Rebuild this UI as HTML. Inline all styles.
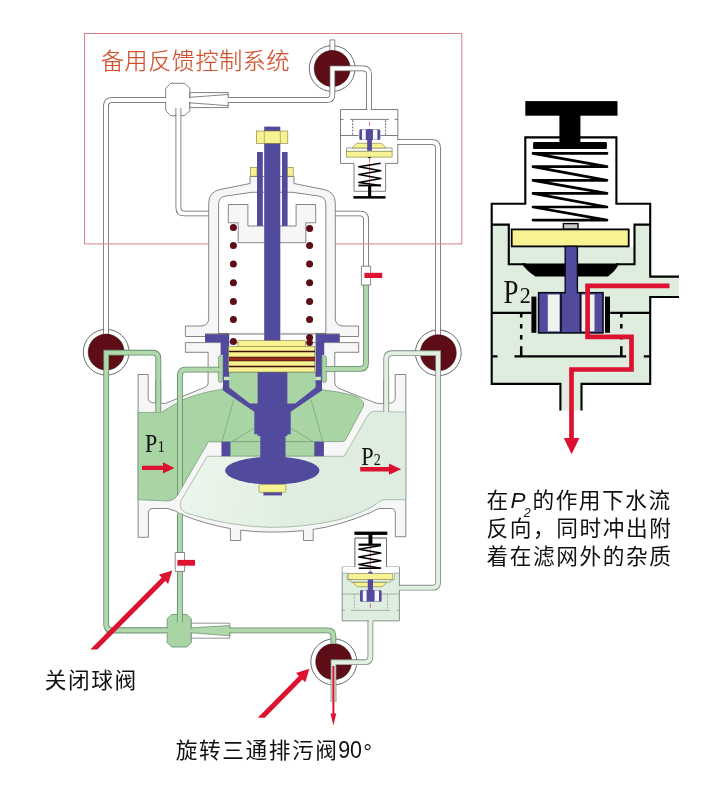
<!DOCTYPE html>
<html lang="zh-CN">
<head>
<meta charset="utf-8">
<title>备用反馈控制系统</title>
<style>
html,body{margin:0;padding:0;background:#fff;}
body{width:718px;height:800px;overflow:hidden;font-family:"Liberation Sans","Noto Sans CJK SC",sans-serif;}
svg{display:block;will-change:transform;}
.cn{font-family:"Liberation Sans","Noto Sans CJK SC",sans-serif;font-weight:300;}
.sf{font-family:"Liberation Serif","Noto Serif CJK SC",serif;}
.wo{fill:none;stroke:#5e5e5e;stroke-width:5.7;stroke-linejoin:round;}
.wi{fill:none;stroke:#fff;stroke-width:4.2;stroke-linejoin:round;}
.go{fill:none;stroke:#668a6c;stroke-width:5.8;stroke-linejoin:round;}
.gi{fill:none;stroke:#afd8ab;stroke-width:4.1;stroke-linejoin:round;}
.lo{fill:none;stroke:#7f8c82;stroke-width:5.8;stroke-linejoin:round;}
.li{fill:none;stroke:#e1f0e1;stroke-width:4.1;stroke-linejoin:round;}
.gr{fill:#f6f6f6;stroke:#6a6a6a;stroke-width:.8;stroke-linejoin:round;}
.wh{fill:#fff;stroke:#6a6a6a;stroke-width:.8;stroke-linejoin:round;}
.dg{fill:#a9d5a5;stroke:#6f9472;stroke-width:.7;stroke-linejoin:round;}
.lg{fill:#deeddf;stroke:#8fa891;stroke-width:.7;stroke-linejoin:round;}
.pu{fill:#524a9d;}
.ye{fill:#f8f392;stroke:#7d7a3a;stroke-width:.6;}
.mr{fill:#5e0d16;stroke:#2a0508;stroke-width:.5;}
.red{fill:#dc1230;}
.bk{fill:none;stroke:#000;stroke-width:2.1;}
</style>
</head>
<body>
<svg width="718" height="800" viewBox="0 0 718 800">
<rect width="718" height="800" fill="#fff"/>
<!-- ball valve rings -->
<g id="rings">
<circle cx="332.2" cy="68.5" r="22.9" class="wh" style="stroke:#5c5c5c;stroke-width:.9"/>
<circle cx="106.2" cy="352.2" r="22.9" class="wh" style="stroke:#5c5c5c;stroke-width:.9"/>
<circle cx="438.3" cy="352.8" r="22.9" class="wh" style="stroke:#5c5c5c;stroke-width:.9"/>
<circle cx="333.8" cy="661.9" r="23" class="wh" style="stroke:#5c5c5c;stroke-width:.9"/>
<rect x="329.9" y="39.9" width="4.9" height="11" class="wh"/>
</g>
<!-- white pipes -->
<defs><path id="w1" d="M106,336 L106,105.9 Q106,100.1 111.8,100.1 L167,100.1 M178.4,114 L178.4,207.7 Q178.4,213.5 184.2,213.5 L210,213.5 M334,213.5 L360.2,213.5 Q366,213.5 366,219.3 L366,267 M397,142.1 L432.2,142.1 Q438,142.1 438,147.9 L438,336"/></defs>
<g id="wpipes">
<use href="#w1" class="wo"/>
<use href="#w1" class="wi"/>
</g>
<rect x="84.5" y="33.5" width="377.3" height="210.4" fill="none" stroke="#d9808a" stroke-width="1"/>
<!-- green pipes -->
<defs>
<path id="g1" d="M106.2,630.4 L169,630.4 M228,630.4 L327.6,630.4 Q333.4,630.4 333.4,636.2 L333.4,643.6"/>
<path id="g2" d="M158.3,413 L158.3,358.5 Q158.3,352.7 152.5,352.7 L106.2,352.7 L106.2,624.6 Q106.2,630.4 112,630.4 L169,630.4"/>
<path id="l1" d="M386.2,413 L386.2,359 Q386.2,353.2 392,353.2 L438.1,353.2 L438.1,581.9 Q438.1,587.7 432.3,587.7 L398,587.7"/>
<path id="l2" d="M370.4,619 L370.4,656.4 Q370.4,662.2 364.6,662.2 L333.5,662.2 L333.5,702"/>
</defs>
<g id="balls">
<circle cx="332.2" cy="68.5" r="18" class="mr"/>
<circle cx="106.2" cy="352.1" r="18" class="mr"/>
<circle cx="438.3" cy="352.8" r="18" class="mr"/>
<circle cx="333.7" cy="661.7" r="18" class="mr"/>
<path d="M227,100.1 L326.6,100.1 Q332.4,100.1 332.4,94.3 L332.4,68.3 L363.1,68.3 Q368.9,68.3 368.9,74.1 L368.9,111" class="wo" style="stroke-linejoin:miter"/>
<path d="M226,100.1 L326.6,100.1 Q332.4,100.1 332.4,94.3 L332.4,68.3 L363.1,68.3 Q368.9,68.3 368.9,74.1 L368.9,111" class="wi" style="stroke-linejoin:miter"/>
</g>
<g id="gpipes">
<use href="#g1" class="go"/>
<use href="#g1" class="gi"/>
<use href="#g2" class="go" style="stroke-linejoin:miter"/>
<use href="#g2" class="gi" style="stroke-linejoin:miter"/>
<use href="#l1" class="lo" style="stroke-linejoin:miter"/>
<use href="#l1" class="li" style="stroke-linejoin:miter"/>
<use href="#l2" class="lo" style="stroke-linejoin:miter"/>
<use href="#l2" class="li" style="stroke-linejoin:miter"/>
<path d="M333.4,666 V714" stroke="#dc1230" stroke-width="2" fill="none"/>
<path d="M333.4,725.4 l-2.9,-12 h5.8 z" class="red"/>
</g>
<!-- main valve body silhouette -->
<g id="body">
<path class="gr" d="M138.1,374.5 H148.2 V397.5 Q148.2,402.6 153.5,402.8 L165.6,403.4 L205.6,387 Q208.1,386 208.1,383 L208.1,352.3 H185.4 V342.6 H358.7 V352.3 H334.8 L334.8,382.6 Q334.8,386.4 338.5,388.2 L374,402.4 Q378,403.8 382,403.6 L390.5,403 Q395.2,402.4 395.2,397.5 V374.5 H405.8 V536.7 H395.3 V513 Q395.3,508.5 391,508.5 H379 Q374,510.5 370.3,512.7 Q340,525.5 313.2,529.5 V540.5 H303.5 V530.7 Q285,532.3 270,532.1 Q255,532 240.7,530.2 V540.5 H230.4 V528.6 Q205,524 182.2,514.8 Q175,510 167.6,508.5 H153 Q148.4,508.5 148.4,513 V537.3 H138.1 Z"/>
<!-- inlet / upper chamber dark green -->
<path class="dg" d="M138.1,412.4 H161.5 Q172,405.5 182.4,399.9 Q200,392.5 222,389.4 L229,372 H315 L321.5,389.6 Q338,391.5 351.8,395 Q365,399 363.6,406 L345.2,440.4 Q344,441.6 340,441.6 L208.3,441.9 L180.1,490.5 Q176,500.5 168,501 L138,499.7 Z"/>
<path class="dg" d="M230,441.6 H314.5 V456.2 H230 Z"/>
<!-- outlet light green -->
<defs><linearGradient id="og" gradientUnits="userSpaceOnUse" x1="185" y1="470" x2="310" y2="500"><stop offset="0" stop-color="#edf6ed"/><stop offset="1" stop-color="#deeddf"/></linearGradient></defs>
<path class="lg" style="fill:url(#og)" d="M207.3,456.3 H344.2 L368,415 Q370.5,411.2 375,411.2 L405.8,412.2 V499.7 H384 Q380,500 374.4,505.4 Q362,513 340,519.5 Q305,527.6 270,527.4 Q230,526.5 186,513 Q178,509 181,500.5 Z"/>
</g>
<!-- bonnet -->
<g id="bonnet">
<path class="gr" d="M250,176.5 H294 V183.5 L323,189.3 Q335.3,191.5 335.3,203 V318 Q335.3,326 343,326 H358.6 V336.5 H185.4 V326 H201 Q208.7,326 208.7,318 V203 Q208.7,191.5 221,189.3 L250,183.5 Z"/>
<path class="wh" d="M218.6,333.4 V204 Q218.6,197 226,196 L252,192.3 H292 L318.5,196 Q325.8,197 325.8,204 V333.4 Z"/>
<rect x="229" y="333" width="86.8" height="9" fill="#fff"/>
<path class="gr" d="M228.3,204.5 H247.9 V226 H296.1 V204.5 H315.7 V222.8 H305.8 V242.7 H238.2 V222.8 H228.3 Z"/>
</g>
<!-- spring coils -->
<g class="mr" style="stroke:none">
<circle cx="233.4" cy="227.4" r="3.5"/><circle cx="233.4" cy="245.5" r="3.5"/><circle cx="233.4" cy="263.9" r="3.5"/><circle cx="233.4" cy="282.8" r="3.5"/><circle cx="233.4" cy="301.6" r="3.5"/><circle cx="233.4" cy="319.6" r="3.5"/><circle cx="233.4" cy="341.6" r="3.5"/>
<circle cx="309.6" cy="228.4" r="3.5"/><circle cx="309.6" cy="245.5" r="3.5"/><circle cx="309.6" cy="263.9" r="3.5"/><circle cx="309.6" cy="282.8" r="3.5"/><circle cx="309.6" cy="301.6" r="3.5"/><circle cx="309.6" cy="319.6" r="3.5"/><circle cx="309.6" cy="337.4" r="3.5"/><circle cx="309.6" cy="342.8" r="3.3"/>
</g>
<!-- purple internals -->
<g class="pu">
<rect x="264.2" y="126.6" width="16.1" height="216"/>
<rect x="257" y="152" width="5.8" height="73.9"/>
<rect x="282" y="152" width="5.6" height="73.9"/>
<path d="M205,334.3 H229.2 V387.6 L249.9,403.4 H257.8 V371.8 H287.2 V403.4 H295.1 L315.6,387.6 V334.3 H339.8 V342.3 H324.2 V355 H322 V390.5 L290.7,411.7 V434.2 H287.2 V436 H257.8 V434.2 H254.3 V411.7 L223,390.5 V355 H220.6 V342.3 H205 Z"/>
<rect x="221.5" y="441.7" width="8.8" height="14.5"/>
<rect x="314.5" y="441.7" width="9.4" height="14.5"/>
<ellipse cx="272.3" cy="470.6" rx="47.2" ry="14"/>
<rect x="263.4" y="490" width="18.6" height="5.4"/>
</g>
<rect x="257.8" y="371.8" width="29.4" height="64" class="pu"/>
<rect x="260.3" y="430" width="25.2" height="30" class="pu"/>
<path d="M205,334 H264 M280.5,334 H339.8" stroke="#333" stroke-width=".7" fill="none"/>
<rect x="218.4" y="355.7" width="4.4" height="26.7" rx="2" class="dg"/>
<rect x="322" y="355.7" width="4.4" height="26.7" rx="2" class="dg"/>
<rect x="224" y="376.8" width="5.5" height="3.4" fill="#c9e8c6"/>
<rect x="315.4" y="376.8" width="5.5" height="3.4" fill="#c9e8c6"/>
<path d="M233.8,399.7 L222,441.6 M254.3,428 L232,441.6 M311,399.7 L322.8,441.6 M290.5,428 L313,441.6" stroke="#5d8a62" stroke-width=".5" fill="none"/>
<!-- yellow parts -->
<g class="ye">
<rect x="256.3" y="131" width="31.5" height="12.3"/>
<rect x="250.5" y="167.4" width="6.5" height="8.8"/>
<rect x="287.6" y="167.4" width="5.6" height="8.8"/>
<rect x="238" y="340.7" width="67.3" height="6"/>
<rect x="228.6" y="346.4" width="86.2" height="25.6"/>
<rect x="259" y="484.4" width="26.9" height="7.9" rx="1.2"/>
</g>
<path d="M229,351.5 H315 M229,366.4 H315" stroke="#3f1206" stroke-width="1.5" fill="none"/>
<path d="M229,359 H315" stroke="#4a1408" stroke-width="4.4" fill="none"/>
<path d="M229,359 H315" stroke="#94301a" stroke-width="3.2" fill="none"/>
<path d="M264.3,131 V143.3 M280.3,131 V143.3" stroke="#8a8740" stroke-width=".6" fill="none"/>
<!-- pipes drawn over the body -->
<defs>
<path id="g3" d="M179.9,504 L179.9,375.4 Q179.9,369.6 185.7,369.6 L220,369.6"/>
<path id="g3b" d="M179.9,513.6 L179.9,616"/>
<path id="g4" d="M366,284 L366,363.1 Q366,368.9 360.2,368.9 L325,368.9"/>
<path id="g5" d="M158.3,412.5 L158.3,380"/>
<path id="l5" d="M386.2,412 L386.2,380"/>
</defs>
<clipPath id="cpin"><path d="M150,350 H262 L174.6,500.6 H150 Z"/></clipPath>
<g id="overpipes">
<use href="#g3b" class="go"/><use href="#g3b" class="gi"/>
<g clip-path="url(#cpin)"><use href="#g3" class="go"/><use href="#g3" class="gi"/></g>
<use href="#g4" class="go"/><use href="#g4" class="gi"/>
<use href="#g5" class="go"/><use href="#g5" class="gi"/>
<use href="#l5" class="lo"/><use href="#l5" class="li"/>
</g>
<!-- ejectors -->
<g id="ejectors">
<path d="M170.7,83.3 H184.8 L189.8,88.3 V110.7 L184.8,115.7 H170.7 L165.7,110.7 V88.3 Z" fill="#fff" stroke="#5e5e5e" stroke-width=".8" stroke-linejoin="round"/>
<path d="M178.4,108 V117" stroke="#fff" stroke-width="4.4"/>
<path d="M175.9,108 V116.4 M180.9,108 V116.4" stroke="#5e5e5e" stroke-width=".75"/>
<path d="M189.8,92.6 H228.2 V107.6 H189.8 Z" fill="#fff" stroke="#5e5e5e" stroke-width=".8"/>
<path d="M189.8,97.3 L228.2,94.5 M189.8,102.8 L228.2,105.7" stroke="#5e5e5e" stroke-width=".75" fill="none"/>
<path d="M165.7,98.2 V102 M189.8,98.2 V102 M228.2,98.2 V102" stroke="#fff" stroke-width="1.8" fill="none"/>
<path d="M171.6,614.5 H186.9 L191.3,618.9 V642.6 L186.9,647 H171.6 L167.2,642.6 V618.9 Z" class="dg" style="stroke:#668a6c;stroke-width:.8"/>
<path d="M179.9,612 V622.4" stroke="#afd8ab" stroke-width="4.2"/>
<path d="M177.4,612 V622.4 M182.4,612 V622.4" stroke="#668a6c" stroke-width=".8"/>
<path d="M191.3,623.2 H229.8 V638.2 H191.3 Z" fill="#fff" stroke="#7a7a7a" stroke-width=".8"/>
<path d="M191.3,627.8 L229.6,625.6 V635.8 L191.3,632.8 Z" fill="#afd8ab" stroke="#668a6c" stroke-width=".7"/>
<path d="M167.2,628.6 V632.2 M191.3,628.6 V632.2 M229.7,628.6 V632.2" stroke="#afd8ab" stroke-width="1.8" fill="none"/>
</g>
<!-- small ball valves on pipes -->
<g id="svalves">
<rect x="361.4" y="266.2" width="9.2" height="18.8" class="wh"/>
<rect x="364.4" y="272.8" width="17.8" height="5.2" class="red"/>
<rect x="175.2" y="552.5" width="9.4" height="18.9" class="wh"/>
<rect x="177.4" y="559.9" width="17.6" height="5.8" class="red"/>
</g>
<!-- top pilot valve -->
<g id="pilot-top">
<path d="M340.5,109.5 H397.8 V163.4 H385.6 V191.3 H354 V163.4 H340.5 Z" fill="#fff" stroke="#5e5e5e" stroke-width=".8"/>
<rect x="367.2" y="108.6" width="3.6" height="2" fill="#fff"/>
<rect x="397" y="140.2" width="2" height="3.8" fill="#fff"/>
<path d="M340.5,119.4 H343.6 M350.2,119.4 H389 M394.6,119.4 H397.8 M340.5,135.5 H358.6 M380.6,135.5 H397.8" stroke="#5e5e5e" stroke-width=".8" fill="none"/>
<path d="M352.7,120.2 V135.5 M385.6,120.2 V135.5" stroke="#4a4a4a" stroke-width=".9" stroke-dasharray="1.7 1.5" fill="none"/>
<path d="M369.5,121.5 V126.5 M369.5,158 V185" stroke="#d0453a" stroke-width=".7" stroke-dasharray="4.5 1.2" fill="none"/>
<path d="M346.5,148 H392.1 V151.4 H346.5 Z" fill="#fff" stroke="#6a6a6a" stroke-width=".6"/>
<path d="M352,148 L356.7,143.3 H381.6 L386.2,148 Z" class="ye"/>
<rect x="346.5" y="151.2" width="45.6" height="5.9" class="ye"/>
<rect x="359.3" y="129.2" width="21" height="10.9" rx="1.6" class="pu"/>
<rect x="362" y="129.6" width="3.8" height="10.1" fill="#f4f6fc"/>
<rect x="373" y="129.6" width="4.4" height="10.1" fill="#f4f6fc"/>
<rect x="367.2" y="129.2" width="4.7" height="21.6" class="pu"/>
<rect x="367.8" y="157.1" width="3.4" height="1" fill="#222"/>
<path d="M380.6,163.2 L358.8,166.8 L380.8,170.8 L358.8,174.6 L380.8,178.6 L358.8,182.4 L380.8,185.6" stroke="#000" stroke-width="1.5" fill="none" stroke-linejoin="round"/>
<rect x="358.4" y="184.6" width="22.6" height="1.8" fill="#000"/>
<rect x="368.1" y="185" width="3.1" height="12" fill="#000"/>
<rect x="353.4" y="196.1" width="32.2" height="2.5" fill="#000"/>
</g>
<!-- bottom pilot valve -->
<g id="pilot-bot">
<path d="M342.2,620.9 H399.4 V567 H386.5 V538.1 H355 V567 H342.2 Z" fill="#deeddf" stroke="#6f7a71" stroke-width=".8"/>
<path d="M355,538.5 H386.5 V567 H399 V573 H394.4 V579.6 H347.2 V573 H342.6 V567 H355 Z" fill="#fff"/>
<path d="M355,567 V538.1 H386.5 V567" fill="none" stroke="#5e5e5e" stroke-width=".8"/>
<path d="M342.2,573 H347.2 V579.8 H350.8 V582.2 H390.4 V579.8 H394.4 V573 H399.4" fill="none" stroke="#7d8a7f" stroke-width=".6"/>
<rect x="369" y="620" width="3.6" height="2" fill="#e1f0e1"/>
<rect x="398.6" y="586.2" width="2" height="3.6" fill="#e1f0e1"/>
<path d="M342.2,610.4 H345 M350.8,610.4 H390.2 M396.6,610.4 H399.4 M342.2,594 H360 M381.6,594 H399.4" stroke="#8a9a8c" stroke-width=".7" fill="none"/>
<path d="M354.4,594 V610.4 M387.5,594 V610.4" stroke="#8a9a8c" stroke-width=".8" stroke-dasharray="1.7 1.5" fill="none"/>
<path d="M370.3,603.5 V609 M370.3,546 V572" stroke="#d0453a" stroke-width=".7" stroke-dasharray="4.5 1.2" fill="none"/>
<rect x="348.1" y="573.6" width="44.7" height="5.9" class="ye"/>
<path d="M352.7,582.4 H386.9 L382.3,586.7 H357.3 Z" class="ye"/>
<rect x="360" y="590" width="21.6" height="11.8" rx="1.6" class="pu"/>
<rect x="362.8" y="590.4" width="3.8" height="11" fill="#f4f6fc"/>
<rect x="374.6" y="590.4" width="4.4" height="11" fill="#f4f6fc"/>
<rect x="367.8" y="579.5" width="5.2" height="12" class="pu"/>
<rect x="368.3" y="571.8" width="4.2" height="1.8" class="pu"/>
<path d="M380.8,545.4 L358.8,549.2 L380.8,553 L358.8,557 L380.8,560.8 L358.8,564.6 L380.8,568.2" stroke="#000" stroke-width="1.5" fill="none" stroke-linejoin="round"/>
<rect x="358.6" y="543.6" width="22.4" height="2.2" fill="#000"/>
<rect x="358.8" y="567.4" width="22" height="1.6" fill="#000"/>
<rect x="368.5" y="533" width="3.9" height="11.5" fill="#000"/>
<rect x="354.4" y="531.6" width="32.9" height="3.3" fill="#000"/>
</g>
<!-- enlarged pilot valve detail -->
<g id="detail">
<path d="M491.1,224.6 H650.2 V276.6 H679 V297 H650.2 V383.9 H581.5 V410.5 H560.4 V383.9 H491.1 Z" fill="#deedde"/>
<rect x="491.1" y="203.7" width="159.1" height="21" fill="#fff"/>
<rect x="508.8" y="224" width="125.7" height="23" fill="#fff"/>
<rect x="525.3" y="137.4" width="91.1" height="68" fill="#fff"/>
<path d="M525.3,203.7 V137.4 H616.4 V203.7" class="bk"/>
<path d="M526.2,203.7 H491.7 V383.9 H560.4 V410.5 M615.5,203.7 H650.2 V276.6 H679 M679,297 H650.2 V383.9 H581.5 V410.5" class="bk"/>
<path d="M491.7,224.6 H508.8 V264.2 H526 M650.2,224.6 H634.5 V264.2 H616" class="bk"/>
<path d="M491.7,312.9 H531.5 M610.2,312.9 H650.2 M491.7,356.4 H497.5 M514.5,356.4 H626.2 M643.8,356.4 H650.2" class="bk"/>
<path d="M521.2,313 V346.5 M621.3,313 V346.5" stroke="#000" stroke-width="2.5" stroke-dasharray="4.6 6.4" fill="none"/>
<path d="M521.2,346.5 V356.4 M621.3,346.5 V356.4" stroke="#000" stroke-width="2.5" fill="none"/>
<!-- handle -->
<rect x="525.3" y="101.1" width="92.2" height="14.6" fill="#000"/>
<rect x="559.4" y="115" width="21" height="28" fill="#000"/>
<rect x="533.1" y="142.1" width="73.8" height="6.8" rx="1" fill="#000"/>
<path d="M607,153.4 H533 L607,166.7 H533 L607,180.3 H533 L607,193.4 H533 L607,207 H533 L607,220.1 H533" stroke="#000" stroke-width="2.7" fill="none" stroke-linejoin="round" stroke-linecap="round"/>
<rect x="563.4" y="223.6" width="14.6" height="5.8" fill="#ccc" stroke="#000" stroke-width="1.4"/>
<rect x="511.7" y="229.4" width="117" height="17" fill="#f8f392" stroke="#000" stroke-width="1.8"/>
<path d="M521.5,263.6 H619 Q616,271 608,276.4 H535.4 Q527,271.5 521.5,263.6 Z" fill="#000"/>
<rect x="565.2" y="246.4" width="12.2" height="48" fill="#524a9d" stroke="#0a0a1a" stroke-width="1.4"/>
<rect x="538.6" y="292.7" width="64.4" height="40.2" fill="#524a9d" stroke="#0a0a1a" stroke-width="1.6"/>
<rect x="547.8" y="294.5" width="11.8" height="36.8" fill="#eef3ee"/>
<rect x="581.5" y="294.5" width="13" height="36.8" fill="#eef3ee"/>
<path d="M561,293 V333 M580.5,293 V333" stroke="#0a0a1a" stroke-width="1.6" fill="none"/>
<rect x="566" y="290" width="10.6" height="6" fill="#524a9d"/>
<rect x="531.4" y="296.6" width="5" height="36.2" fill="#000"/>
<rect x="605" y="296.6" width="5" height="36.2" fill="#000"/>
<path d="M669.5,285.9 H587.6 V336.9 H631.5 V369.5 H571.5 V439" stroke="#dc1230" stroke-width="4.7" fill="none"/>
<path d="M571.6,454.3 l-7.8,-16.3 h15.6 z" class="red"/>
</g>
<!-- arrows -->
<g id="arrows" class="red">
<path d="M142,465.7 H163 V462.3 L174.5,467.9 L163,473.5 V470.1 H142 Z"/>
<path d="M360.2,467 H389 V463.6 L401.2,469.2 L389,474.8 V471.4 H360.2 Z"/>
<path d="M97.3,649.5 L165.3,581.0 L168.1,583.9 L172.3,570.4 L158.9,574.7 L161.7,577.5 L90.3,649.5 Z"/>
<path d="M264.8,717.7 L302.4,679.4 L305.3,682.2 L309.4,668.7 L296.0,673.1 L298.9,675.9 L257.8,717.7 Z"/>
</g>
<!-- labels -->
<g id="labels">
<text x="100.9" y="69.3" class="cn" font-size="23" letter-spacing=".65" fill="#d3502d" stroke="#d3502d" stroke-width=".2">备用反馈控制系统</text>
<text x="44.8" y="688" class="cn" style="font-weight:400" font-size="21.7" letter-spacing="1.55" fill="#111">关闭球阀</text>
<text x="175.8" y="757.8" class="cn" style="font-weight:400" font-size="21.7" letter-spacing="1.55" fill="#111">旋转三通排污阀</text>
<text transform="translate(338.2 757.6) scale(.94 1.05)" class="cn" style="font-weight:400" font-size="22.8" fill="#111">90</text>
<text x="363.2" y="759.8" class="cn" style="font-weight:400" font-size="22" fill="#111">°</text>
<g class="cn" font-size="21.7" fill="#111" style="font-weight:400" letter-spacing="1.55">
<text x="486.6" y="508.4">在</text>
<text x="510.6" y="508.4" font-style="italic" font-size="22.5" style="font-weight:400">P</text>
<text x="523.8" y="517" font-style="italic" font-size="12.5">2</text>
<text x="532.4" y="508.4">的作用下水流</text>
<text x="486.6" y="536">反向，同时冲出附</text>
<text x="486.6" y="563.5">着在滤网外的杂质</text>
</g>
<text transform="translate(145.1 452) scale(.88 1)" class="sf" font-size="25" fill="#111">P<tspan font-size="16" dx="0.5">1</tspan></text>
<text transform="translate(361.2 465.1) scale(.86 1)" class="sf" font-size="25.9" fill="#111">P<tspan font-size="16.6" dx="0.3">2</tspan></text>
<text transform="translate(503.6 302.7) scale(.8 1)" class="sf" font-size="33.5" fill="#111">P</text>
<text transform="translate(519.7 302.7) scale(.95 1)" class="sf" font-size="23.2" fill="#111">2</text>
</g>
</svg>
</body>
</html>
